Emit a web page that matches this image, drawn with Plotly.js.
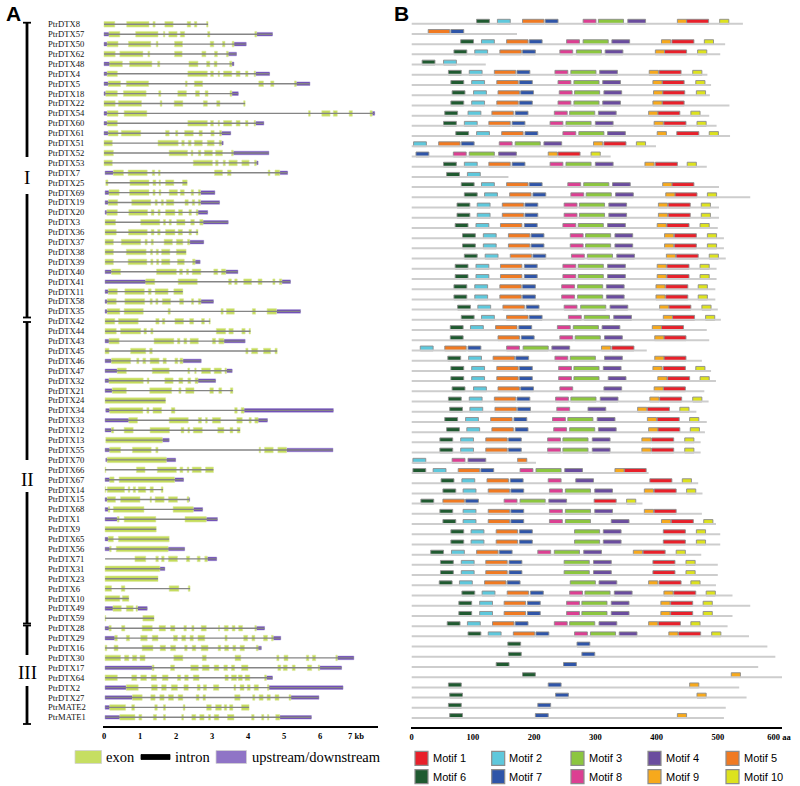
<!DOCTYPE html>
<html>
<head>
<meta charset="utf-8">
<script src="https://cdn.plot.ly/plotly-3.0.1.min.js"></script>
<style>html,body{margin:0;padding:0;background:#fff;}#chart{width:800px;height:786px;}</style>
</head>
<body>
<div id="chart"></div>
<script>
// ---------------- Panel A: gene structures (kb) ----------------
const geneNames = ["PtrDTX8","PtrDTX57","PtrDTX50","PtrDTX62","PtrDTX48","PtrDTX4","PtrDTX5","PtrDTX18","PtrDTX22","PtrDTX54",
"PtrDTX60","PtrDTX61","PtrDTX51","PtrDTX52","PtrDTX53","PtrDTX7","PtrDTX25","PtrDTX69","PtrDTX19","PtrDTX20",
"PtrDTX3","PtrDTX36","PtrDTX37","PtrDTX38","PtrDTX39","PtrDTX40","PtrDTX41","PtrDTX11","PtrDTX58","PtrDTX35",
"PtrDTX42","PtrDTX44","PtrDTX43","PtrDTX45","PtrDTX46","PtrDTX47","PtrDTX32","PtrDTX21","PtrDTX24","PtrDTX34",
"PtrDTX33","PtrDTX12","PtrDTX13","PtrDTX55","PtrDTX70","PtrDTX66","PtrDTX67","PtrDTX14","PtrDTX15","PtrDTX68",
"PtrDTX1","PtrDTX9","PtrDTX65","PtrDTX56","PtrDTX71","PtrDTX31","PtrDTX23","PtrDTX6","PtrDTX10","PtrDTX49",
"PtrDTX59","PtrDTX28","PtrDTX29","PtrDTX16","PtrDTX30","PtrDTX17","PtrDTX64","PtrDTX2","PtrDTX27","PtrMATE2","PtrMATE1"];

const geneSpan = [[0,2.89],[0,4.68],[0,3.95],[0,3.68],[0,3.61],[0,4.60],[0,5.72],[0,3.73],[0,3.92],[0,7.52],
[0,4.44],[0,3.52],[0,3.31],[0,4.58],[0,4.28],[0.03,5.10],[0.05,2.31],[0.03,3.08],[0.03,3.21],[0.03,2.88],
[0.03,3.45],[0.03,2.61],[0.03,2.77],[0.03,2.28],[0.03,2.67],[0.03,3.72],[0.03,5.18],[0.03,2.19],[0.03,3.04],[0.03,5.46],
[0.03,2.95],[0.03,4.07],[0.03,3.92],[0.03,4.81],[0.03,2.70],[0.03,3.56],[0.03,3.10],[0.03,3.58],[0.03,1.71],[0.05,6.37],
[0.03,4.54],[0.03,3.78],[0.05,1.81],[0.03,6.36],[0.05,1.99],[0.03,3.04],[0.03,2.21],[0.03,1.64],[0.03,2.38],[0.03,2.74],
[0.03,3.15],[0.03,1.45],[0.03,1.81],[0.03,2.24],[0.03,3.13],[0.03,1.69],[0.03,1.50],[0.03,2.39],[0.03,0.69],[0.03,1.20],
[0.03,1.39],[0.03,4.46],[0.03,4.91],[0.03,4.37],[0.03,6.94],[0.03,6.60],[0.03,4.68],[0.03,6.64],[0.03,5.97],[0.03,4.03],[0.03,5.76]];

const utr5 = [null,[0,0.14],[0,0.09],null,[0,0.16],[0,0.09],[0,0.12],[0,0.05],null,[0,0.09],
[0,0.09],[0,0.12],null,null,null,[0.03,0.26],null,[0.03,0.14],[0.03,0.12],[0.03,0.08],
null,null,null,null,null,[0.03,0.21],[0.03,1.16],[0.03,0.12],[0.03,0.09],[0.03,0.09],
null,null,[0.03,0.14],null,[0.03,0.21],[0.03,0.37],[0.03,0.14],[0.03,0.23],null,[0.05,0.16],
[0.03,0.69],[0.03,0.21],null,[0.03,0.16],[0.05,0.09],null,[0.03,0.16],null,[0.03,0.09],[0.03,0.12],
[0.03,0.37],null,[0.03,0.12],[0.03,0.16],null,null,null,null,null,[0.03,0.25],
null,[0.03,0.14],[0.03,0.30],null,null,[0.03,1.34],null,[0.03,0.62],[0.03,0.79],[0.03,0.16],[0.03,0.44]];

const utr3 = [null,[4.24,4.68],[3.61,3.95],[3.45,3.68],[3.55,3.61],[4.21,4.60],[5.34,5.72],[3.55,3.73],null,[7.45,7.52],
[4.21,4.44],[3.26,3.52],[3.26,3.31],[3.59,4.58],[4.23,4.28],[4.88,5.10],null,[2.68,3.08],[2.68,3.21],[2.61,2.88],
[2.75,3.45],null,[2.38,2.77],null,[2.53,2.67],[3.38,3.72],[4.94,5.18],null,[2.69,3.04],[4.79,5.46],
null,null,[3.33,3.92],null,[2.19,2.70],[3.40,3.56],[2.61,3.10],null,null,[3.89,6.37],
[4.28,4.54],null,[1.62,1.81],[5.07,6.36],[1.73,1.99],null,[1.96,2.21],null,[2.36,2.38],[2.48,2.74],
[2.84,3.15],null,null,[1.78,2.24],[2.87,3.13],[1.55,1.69],null,null,null,[0.93,1.20],
null,[4.23,4.46],[4.70,4.91],[4.28,4.37],[6.48,6.94],[5.99,6.60],[4.51,4.68],[4.58,6.64],[5.19,5.97],null,[4.88,5.76]];

const exonBounds = [
[0,0.30,0.63,1.25,1.36,1.42,1.69,1.92,2.31,2.41,2.51,2.58,2.85,2.89],
[0.14,0.44,0.88,1.50,1.65,1.69,1.80,2.03,2.12,2.24,2.88,2.94,4.19,4.24],
[0.09,0.39,0.68,1.30,1.45,1.50,1.96,2.18,2.95,3.05,3.29,3.36,3.56,3.61],
[0,0.31,0.44,1.08,1.22,1.27,1.96,2.17,2.72,2.83,3.07,3.15,3.40,3.45],
[0.16,0.51,0.71,1.33,1.49,1.55,2.36,2.61,2.85,2.94,3.06,3.14,3.49,3.55],
[0.09,0.37,2.33,2.87,2.96,3.04,3.17,3.21,3.32,3.55,3.67,3.78,3.93,4.00,4.17,4.21],
[0.12,0.46,0.62,1.24,2.26,2.31,2.51,2.74,4.30,4.43,4.63,4.72,5.29,5.34],
[0.05,0.37,0.54,1.17,1.52,1.58,2.05,2.29,2.54,2.65,2.81,2.89,3.50,3.55],
[0,0.31,0.40,1.04,1.56,1.61,1.95,2.19,2.76,2.87,3.13,3.22,3.88,3.92],
[0.09,0.39,0.56,1.19,5.68,5.73,6.05,6.28,6.37,6.48,6.81,6.90,7.39,7.45],
[0.09,0.37,2.33,2.87,2.96,3.04,3.17,3.21,3.32,3.55,3.67,3.78,3.93,4.00,4.17,4.21],
[0.12,0.39,0.48,1.02,1.71,1.81,1.99,2.05,2.24,2.48,2.64,2.73,2.97,3.06,3.21,3.26],
[0,0.23,1.50,2.06,2.16,2.23,2.34,2.42,2.51,2.73,2.87,3.06,3.20,3.26],
[0,0.26,1.81,2.32,2.42,2.47,2.62,2.69,2.79,3.01,3.10,3.29,3.54,3.59],
[0,0.23,2.48,3.01,3.10,3.17,3.31,3.37,3.47,3.70,3.83,4.03,4.18,4.23],
[0.26,0.54,0.67,1.20,1.34,1.41,1.51,1.56,3.07,3.29,3.43,3.53,4.56,4.61,4.75,4.88],
[0.05,0.11,0.72,1.25,1.36,1.44,1.53,1.57,1.71,1.94,2.18,2.31],
[0.14,0.42,0.71,1.25,1.36,1.42,1.53,1.58,1.81,2.04,2.12,2.23,2.42,2.49,2.62,2.68],
[0.12,0.38,0.77,1.30,1.42,1.48,1.59,1.65,1.73,1.94,2.25,2.34,2.45,2.52,2.62,2.68],
[0.08,0.37,0.69,1.21,1.31,1.39,1.50,1.56,1.71,1.97,2.07,2.18,2.36,2.43,2.56,2.61],
[0.03,0.32,1.02,1.55,1.65,1.71,1.81,1.87,2.02,2.25,2.41,2.51,2.66,2.75],
[0.03,0.34,0.68,1.20,1.31,1.39,1.49,1.56,1.71,1.97,2.06,2.18,2.36,2.43,2.56,2.61],
[0.03,0.26,0.48,1.02,1.14,1.20,1.31,1.37,1.67,1.90,2.01,2.19,2.32,2.38],
[0.03,0.26,0.62,1.17,1.29,1.35,1.45,1.51,1.60,1.83,2.01,2.28],
[0.03,0.26,0.67,1.19,1.30,1.36,1.46,1.52,1.60,1.83,2.04,2.23,2.46,2.53],
[0.21,0.46,1.46,2.01,2.10,2.18,2.29,2.35,2.45,2.69,3.05,3.16,3.26,3.38],
[1.16,1.41,2.06,2.59,3.46,3.54,3.63,3.70,3.88,4.10,4.28,4.39,4.69,4.75,4.87,4.94],
[0.12,0.37,0.58,1.12,1.23,1.31,1.42,1.78,1.94,2.19],
[0.09,0.34,0.58,1.13,1.28,1.34,1.44,1.50,1.62,1.85,2.10,2.21,2.43,2.49,2.62,2.69],
[0.09,0.44,0.56,1.09,1.78,1.84,3.25,3.31,3.40,3.62,4.12,4.21,4.53,4.79],
[0.03,0.30,0.40,0.95,1.44,1.53,1.62,1.69,1.97,2.21,2.38,2.49,2.71,2.79,2.92,2.95],
[0.03,0.34,0.46,1.02,1.11,1.18,1.30,1.36,3.12,3.38,3.47,3.59,3.83,3.92,4.03,4.07],
[0.14,0.42,1.39,1.94,2.04,2.11,2.22,2.30,2.39,2.62,3.01,3.10,3.19,3.33],
[0.03,0.14,0.74,1.16,1.27,1.34,3.94,4.00,4.10,4.27,4.43,4.63,4.75,4.81],
[0.21,0.74,0.91,0.97,1.08,1.16,1.28,1.53,1.64,1.73,1.97,2.05,2.11,2.19],
[0.37,0.62,1.34,1.81,2.33,2.38,2.52,2.56,2.71,2.96,3.06,3.26,3.36,3.40],
[0.14,1.09,1.20,1.25,1.69,1.92,2.08,2.19,2.33,2.41,2.53,2.61],
[0.23,0.62,1.27,1.88,2.08,2.14,2.27,2.50,2.94,3.04,3.19,3.27,3.51,3.58],
[0.03,1.71],
[0.16,1.08,1.19,1.25,1.36,1.60,1.87,1.97,3.63,3.70,3.81,3.89],
[0.69,0.93,1.81,2.34,2.62,2.71,2.82,2.87,3.01,3.24,3.69,3.84,4.03,4.09,4.19,4.28],
[0.21,0.27,0.56,0.81,1.28,1.82,2.14,2.22,2.33,2.38,2.48,2.73,3.16,3.33,3.50,3.58,3.70,3.78],
[0.05,1.62],
[0.16,0.46,0.79,1.31,1.44,1.50,4.31,4.35,4.46,4.70,4.83,5.07],
[0.09,1.73],
[0.03,0.05,0.90,1.14,1.48,2.01,2.11,2.19,2.31,2.36,2.45,2.70,2.82,3.04],
[0.16,0.28,0.42,1.96],
[0.03,0.05,0.09,0.57,0.67,0.72,0.81,0.88,0.95,1.16,1.28,1.37,1.59,1.64],
[0.09,0.32,0.46,1.00,1.28,1.32,1.42,1.67,1.79,2.04,2.31,2.36],
[0.12,0.16,0.26,1.11,1.92,2.48],
[0.37,0.42,0.56,1.44,2.25,2.84],
[0.03,1.45],
[0.12,0.26,0.40,1.81],
[0.16,0.20,0.34,1.78],
[0.86,1.16,1.44,1.51,1.60,1.67,1.79,2.04,2.29,2.38,2.59,2.67,2.80,2.87],
[0.03,1.55],
[0.03,1.50],
[0.03,0.21,0.48,0.58,1.81,2.08,2.34,2.39],
[0.03,0.44,0.51,0.69],
[0.25,0.48,0.62,0.81,0.89,0.93],
[0.03,0.05,1.08,1.39],
[0.14,0.20,0.49,0.58,1.06,1.34,1.53,1.71,1.85,1.97,2.22,2.29,2.44,2.50,2.70,2.84,3.18,3.21,3.34,3.45,3.56,3.64,3.74,3.85,4.19,4.23],
[0.30,0.37,0.62,0.71,1.02,1.20,1.34,1.50,1.93,2.04,2.16,2.27,2.39,2.48,2.61,2.80,3.36,3.42,3.88,3.99,4.11,4.19,4.43,4.54,4.65,4.70],
[0.03,0.08,0.28,0.39,1.06,1.36,1.56,1.71,1.85,1.99,2.24,2.31,2.45,2.55,2.70,2.89,3.17,3.24,3.35,3.46,3.58,3.66,3.78,3.90,4.23,4.28],
[0.03,0.46,0.57,0.69,0.79,0.91,1.00,1.14,1.94,2.19,2.73,2.84,3.64,3.80,4.80,4.86,5.00,5.11,5.62,5.69,5.79,5.88,6.44,6.48],
[1.34,1.39,1.85,1.96,2.41,2.62,2.73,2.92,3.06,3.19,3.33,3.43,3.54,3.63,3.82,4.00,4.83,4.91,4.98,5.09,5.23,5.31,5.65,5.77,5.95,5.99],
[0.03,0.37,0.77,0.91,1.02,1.18,1.31,1.46,1.62,1.78,2.04,2.13,2.24,2.34,2.48,2.64,3.36,3.45,3.54,3.68,3.73,3.84,3.92,4.05,4.46,4.51],
[0.62,0.95,1.32,1.48,1.60,1.73,1.87,2.04,2.22,2.34,2.59,2.67,2.76,2.85,3.04,3.19,3.61,3.66,3.78,3.89,3.98,4.06,4.17,4.29,4.54,4.58],
[0.79,1.06,1.30,1.42,1.55,1.67,1.79,1.93,2.06,2.19,2.56,2.64,2.75,2.82,3.63,3.78,4.13,4.19,4.31,4.42,4.53,4.62,4.75,4.86,5.14,5.19],
[0.16,0.60,0.77,0.85,1.41,1.48,1.65,1.71,2.20,2.25,2.85,2.98,3.10,3.26,3.34,3.41,3.49,3.58,3.82,4.03],
[0.44,0.86,0.97,1.05,1.37,1.46,1.65,1.71,2.16,2.21,2.44,2.55,2.66,2.78,2.90,2.96,3.06,3.19,3.43,3.61,4.10,4.17,4.38,4.44,4.54,4.58,4.77,4.88]];

const groupLabels = ["I","II","III"];
const kbTicks = [0,1,2,3,4,5,6,7];
const kbTickText = ["0","1","2","3","4","5","6","7 kb"];
const legendA = ["exon","intron","upstream/downstream"];

// ---------------- Panel B: motif locations (aa) ----------------
const proteinLength = [541,172,512,504,121,483,489,487,519,486,498,520,399,325,482,158,502,553,502,502,
500,510,510,513,498,498,496,496,500,505,482,486,384,474,489,497,478,485,465,482,
479,472,472,203,387,468,475,377,474,497,504,504,473,500,500,497,524,553,524,516,
551,581,594,566,606,535,547,513,510];

const motifRows = [
[[6,106],[2,140],[5,181],[7,218],[8,280],[3,305],[4,353],[9,434],[1,449],[10,503]],
[[5,27],[7,64]],
[[6,80],[2,114],[5,155],[7,192],[8,253],[3,280],[4,327],[9,408],[1,425],[10,478]],
[[6,69],[2,103],[5,144],[7,181],[8,242],[3,269],[4,316],[9,398],[1,413],[10,467]],
[[6,17],[2,52]],
[[6,60],[2,94],[5,135],[7,172],[8,234],[3,260],[4,307],[9,388],[1,404],[10,459]],
[[6,64],[2,98],[5,139],[7,176],[8,239],[3,265],[4,312],[9,394],[1,409],[10,464]],
[[6,66],[2,101],[5,141],[7,178],[8,241],[3,266],[4,314],[9,395],[1,410],[10,465]],
[[6,64],[2,98],[5,139],[7,176],[8,239],[3,265],[4,312],[9,394],[1,409]],
[[6,54],[2,92],[5,131],[7,169],[8,233],[3,258],[4,305],[9,387],[1,402],[10,456]],
[[6,52],[2,86],[5,126],[7,164],[8,226],[3,252],[4,300],[9,396],[1,412],[10,466]],
[[6,72],[2,106],[5,147],[7,185],[8,247],[3,273],[4,320],[9,401],[1,433],[10,486]],
[[2,3],[5,44],[7,81],[8,143],[3,169],[4,216],[9,297],[1,314],[10,367]],
[[7,7],[8,68],[3,94],[4,142],[9,223],[1,239],[10,293]],
[[6,52],[2,86],[5,126],[7,164],[8,226],[3,252],[4,300],[9,381],[1,398],[10,450]],
[[6,57],[2,91]],
[[6,81],[2,114],[5,155],[7,192],[8,255],[3,281],[4,328],[9,410],[1,425]],
[[6,86],[2,119],[5,160],[7,198],[8,260],[3,285],[4,333],[9,415],[1,430],[10,483]],
[[6,74],[2,107],[5,148],[7,185],[8,249],[3,274],[4,322],[9,403],[1,419],[10,473]],
[[6,74],[2,107],[5,148],[7,185],[8,249],[3,274],[4,322],[9,403],[1,419],[10,473]],
[[6,71],[2,105],[5,145],[7,184],[8,247],[3,272],[4,320],[9,401],[1,417],[10,471]],
[[6,83],[2,117],[5,158],[7,195],[8,259],[3,284],[4,332],[9,413],[1,429],[10,483]],
[[6,83],[2,117],[5,158],[7,195],[8,259],[3,284],[4,332],[9,413],[1,429],[10,483]],
[[6,86],[2,120],[5,161],[7,198],[8,261],[3,287],[4,335],[9,416],[1,432],[10,486]],
[[6,71],[2,105],[5,145],[7,184],[8,247],[3,272],[4,320],[9,401],[1,417],[10,471]],
[[6,71],[2,105],[5,145],[7,184],[8,247],[3,272],[4,320],[9,401],[1,417],[10,471]],
[[6,69],[2,103],[5,144],[7,181],[8,245],[3,271],[4,318],[9,399],[1,415],[10,468]],
[[6,69],[2,103],[5,144],[7,181],[8,245],[3,271],[4,318],[9,399],[1,415],[10,468]],
[[6,75],[2,108],[5,149],[7,187],[8,249],[3,276],[4,324],[9,405],[1,420],[10,474]],
[[6,81],[2,114],[5,155],[7,192],[8,256],[3,282],[4,330],[9,411],[1,426],[10,480]],
[[6,63],[2,96],[5,137],[7,175],[8,238],[3,264],[4,311],[9,393],[1,408]],
[[6,63],[5,141],[7,179],[8,242],[3,267],[4,315],[9,397],[1,412]],
[[2,14],[5,54],[7,92],[8,155],[3,182],[4,229],[9,310],[1,327]],
[[6,59],[2,93],[5,133],[7,170],[8,234],[3,259],[4,315],[9,397],[1,412]],
[[6,64],[2,98],[5,139],[7,176],[8,240],[3,265],[4,313],[9,394],[1,411],[10,464]],
[[6,64],[2,98],[5,139],[7,176],[8,240],[3,265],[4,321],[9,402],[1,418],[10,471]],
[[6,66],[2,101],[5,141],[7,178],[8,242],[4,314],[9,396],[1,411]],
[[6,60],[2,94],[5,135],[7,172],[8,235],[3,260],[4,308],[9,389],[1,405],[10,459]],
[[6,62],[2,95],[5,136],[7,173],[8,237],[4,288],[9,369],[1,385],[10,438]],
[[6,54],[2,88],[5,129],[7,167],[8,230],[3,255],[4,303],[9,385],[1,401],[10,454]],
[[6,57],[2,90],[5,131],[7,169],[8,232],[3,258],[4,305],[9,387],[1,402],[10,455]],
[[6,46],[2,80],[5,121],[7,158],[8,222],[3,247],[4,295],[9,376],[1,392],[10,446]],
[[6,46],[2,80],[5,121],[7,158],[8,222],[3,247],[4,295],[9,376],[1,392],[10,446]],
[[2,2],[8,66],[4,92],[5,173,15]],
[[6,2],[2,35],[5,76],[7,113],[8,177],[3,203],[4,250],[9,332],[1,347]],
[[6,48],[2,82],[5,123],[7,161],[8,223],[4,268],[1,389],[10,442]],
[[6,51],[2,84],[5,125],[7,162],[8,225],[3,251],[4,299],[9,380],[1,396],[10,449]],
[[6,15],[5,51],[7,88],[8,151],[3,177],[4,224],[1,298],[10,351]],
[[6,46],[2,84],[5,125],[7,162],[8,225],[3,251],[4,299],[9,380],[1,396]],
[[6,51],[2,84],[5,125],[7,162],[8,225],[3,251],[4,326],[9,408],[1,424],[10,477]],
[[6,64],[2,97],[5,138],[7,176],[3,266],[4,313],[1,411],[10,465]],
[[6,64],[2,97],[5,138],[7,176],[3,266],[4,313],[1,411],[10,465]],
[[6,31],[2,65],[5,106],[7,143],[8,206],[3,233],[4,281],[9,362],[1,378],[10,432]],
[[6,47],[2,81],[5,121],[7,159],[3,249],[4,297],[1,394],[10,448]],
[[6,47],[2,81],[5,121],[7,159],[3,249],[4,297],[1,394],[10,448]],
[[6,45],[2,78],[5,119],[7,156],[3,259],[4,306],[9,387],[1,404],[10,456]],
[[6,82],[2,115],[5,156],[7,194],[8,258],[3,283],[4,331],[9,412],[1,428],[10,481]],
[[6,77],[2,111],[5,151],[7,189],[8,253],[3,278],[4,326],[9,407],[1,423],[10,476]],
[[6,77],[2,111],[5,151],[7,189],[8,253],[3,278],[4,326],[9,407],[1,423],[10,476]],
[[6,58],[2,91],[5,132],[7,169],[8,233],[3,258],[4,306],[9,387],[1,403],[10,456]],
[[6,92],[2,125],[5,166],[7,203],[8,266],[3,292],[4,339],[9,420],[1,436],[10,490]],
[[6,157],[7,270]],
[[6,158],[7,278]],
[[6,138],[7,248]],
[[6,181],[9,522]],
[[6,60],[7,223],[9,454]],
[[6,62],[7,235],[9,466]],
[[6,60],[7,206]],
[[6,62],[7,202],[9,434]]];

const motifNames = ["Motif 1","Motif 2","Motif 3","Motif 4","Motif 5","Motif 6","Motif 7","Motif 8","Motif 9","Motif 10"];
const motifWidth = [36,21,41,29,35,21,21,21,15,15];
const aaTicks = [0,100,200,300,400,500,600];
const aaTickText = ["0","100","200","300","400","500","600 aa"];

// ---------------- styles ----------------
const motifColors = ["#e8202a","#5ec8dc","#8cc63f","#6a4c9e","#f07a22","#1f5a30","#2f55a8","#dc3f92","#f7a91c","#dde21e"];
const exonColor = "#c4dc5a", utrColor = "#6b47b3", intronColor = "#858585";

const W = 800, H = 786;
const px = x => x / W, py = y => 1 - y / H;

// geometry (pixels) of the two panels
const A = {left:103, right:378, top:10, bottom:725.7, x0:104, perKb:36.0, row0:24.3, rowStep:9.9};
const B = {left:411, right:782, top:10, bottom:726.7, x0:411.7, perAa:0.6122, row0:21.7, rowStep:10.21};

const traces = [];

// introns / gene lines
const ix = [], iy = [];
geneSpan.forEach((s, i) => { ix.push(s[0], s[1], null); iy.push(i, i, null); });
traces.push({type:'scatter', mode:'lines', x:ix, y:iy, xaxis:'x', yaxis:'y',
  line:{color:intronColor, width:1.4}, hoverinfo:'skip', showlegend:false});

// UTR bars
const ub = [], ul = [], uy = [];
[utr5, utr3].forEach(arr => arr.forEach((u, i) => { if (u) { ub.push(u[0]); ul.push(u[1]-u[0]); uy.push(i); } }));
traces.push({type:'bar', orientation:'h', base:ub, x:ul, y:uy, width:0.36, xaxis:'x', yaxis:'y',
  marker:{color:utrColor, line:{color:'#9c88d0', width:0.5}}, hoverinfo:'skip', showlegend:false});

// exon bars
const eb = [], el = [], ey = [];
exonBounds.forEach((b, i) => { for (let k = 0; k < b.length; k += 2) { eb.push(b[k]); el.push(b[k+1]-b[k]); ey.push(i); } });
traces.push({type:'bar', orientation:'h', base:eb, x:el, y:ey, width:0.56, xaxis:'x', yaxis:'y',
  marker:{color:exonColor, line:{color:'#dce9a0', width:0.6}}, hoverinfo:'skip', showlegend:false});

// protein lines (panel B)
const px2 = [], py2 = [];
proteinLength.forEach((L, j) => { px2.push(0, L, null); py2.push(j + 0.2, j + 0.2, null); });
traces.push({type:'scatter', mode:'lines', x:px2, y:py2, xaxis:'x2', yaxis:'y2',
  line:{color:'#cdcdcd', width:2}, hoverinfo:'skip', showlegend:false});

// motif bars, one trace per motif
motifNames.forEach((name, m) => {
  const b = [], l = [], y = [];
  motifRows.forEach((row, j) => row.forEach(r => {
    if (r[0] === m + 1) { b.push(r[1]); l.push(r[2] || motifWidth[m]); y.push(j); }
  }));
  traces.push({type:'bar', orientation:'h', name:name, base:b, x:l, y:y, width:0.47, xaxis:'x2', yaxis:'y2',
    marker:{color:motifColors[m], line:{color:'#8c8c8c', width:0.9}}, hoverinfo:'skip', showlegend:false});
});

// ---------------- layout ----------------
const shapes = [], annotations = [];
const tickFont = {family:'Liberation Serif', size:8.5, color:'#000', weight:'bold'};

// gene names
geneNames.forEach((n, i) => annotations.push({xref:'paper', yref:'y', x:px(46), y:i, xanchor:'left', yanchor:'middle',
  text:n, showarrow:false, font:{family:'Liberation Serif', size:8.6, color:'#111'}}));

// group brackets (pixel geometry of the reference bracket drawing)
const bx = 27;
const bracketSegs = [[22.7,157],[194,317.5],[322,460],[492,623.5],[625.5,655],[686,724]];
bracketSegs.forEach(s => shapes.push({type:'line', xref:'paper', yref:'paper', x0:px(bx), x1:px(bx), y0:py(s[0]), y1:py(s[1]), line:{color:'#000', width:2.8}}));
[22.7,317.5,322,623.5,625.5,724].forEach(y => shapes.push({type:'line', xref:'paper', yref:'paper', x0:px(23), x1:px(31), y0:py(y), y1:py(y), line:{color:'#000', width:1.8}}));
[[groupLabels[0],177],[groupLabels[1],479],[groupLabels[2],672]].forEach(g => annotations.push({xref:'paper', yref:'paper',
  x:px(bx), y:py(g[1]), xanchor:'center', yanchor:'middle', text:g[0], showarrow:false,
  font:{family:'Liberation Serif', size:19, color:'#000'}}));

// panel letters
annotations.push({xref:'paper', yref:'paper', x:px(13), y:py(13), xanchor:'center', yanchor:'middle', text:'A', showarrow:false,
  font:{family:'Liberation Sans', size:21, color:'#000', weight:'bold'}});
annotations.push({xref:'paper', yref:'paper', x:px(401), y:py(14), xanchor:'center', yanchor:'middle', text:'B', showarrow:false,
  font:{family:'Liberation Sans', size:21, color:'#000', weight:'bold'}});

// legend A
const legA = [[75,101.5,750.5,763.5,'#c6de62',104],[141,170,754.5,759.5,'#000',173],[216,246.5,750.5,763.5,'#8f74c6',250]];
legA.forEach((k, i) => {
  shapes.push({type:'rect', xref:'paper', yref:'paper', x0:px(k[0]), x1:px(k[1]), y0:py(k[3]), y1:py(k[2]),
    fillcolor:k[4], line:{color: i===1 ? '#000' : '#d0d0d0', width:0.8}});
  annotations.push({xref:'paper', yref:'paper', x:px(k[5]), y:py(757), xanchor:'left', yanchor:'middle', text:legendA[i],
    showarrow:false, font:{family:'Liberation Serif', size:14.5, color:'#000'}});
});

// legend B
const legCols = [415, 491.7, 571, 648, 726], legRows = [758.3, 776.7];
motifNames.forEach((n, m) => {
  const x = legCols[m % 5], y = legRows[Math.floor(m / 5)];
  shapes.push({type:'rect', xref:'paper', yref:'paper', x0:px(x), x1:px(x+13), y0:py(y+7), y1:py(y-7),
    fillcolor:motifColors[m], line:{color:'#8c8c8c', width:1.2}});
  annotations.push({xref:'paper', yref:'paper', x:px(x+15.5), y:py(y), xanchor:'left', yanchor:'middle', text:n,
    showarrow:false, font:{family:'Liberation Sans', size:11, color:'#000'}});
});

const layout = {
  width:W, height:H, margin:{l:0, r:0, t:0, b:0}, paper_bgcolor:'#fff', plot_bgcolor:'rgba(0,0,0,0)',
  showlegend:false, barmode:'overlay', hovermode:false,
  xaxis:{domain:[px(A.left), px(A.right)], range:[(A.left-A.x0)/A.perKb, (A.right-A.x0)/A.perKb], anchor:'y',
    showline:true, linecolor:'#000', linewidth:2.7, showgrid:false, zeroline:false, ticks:'',
    tickvals:kbTicks, ticktext:kbTickText, tickfont:tickFont, fixedrange:true},
  yaxis:{domain:[py(A.bottom), py(A.top)], range:[(A.bottom-A.row0)/A.rowStep, (A.top-A.row0)/A.rowStep], anchor:'x',
    visible:false, fixedrange:true},
  xaxis2:{domain:[px(B.left), px(B.right)], range:[(B.left-B.x0)/B.perAa, (B.right-B.x0)/B.perAa], anchor:'y2',
    showline:true, linecolor:'#000', linewidth:2.7, showgrid:false, zeroline:false, ticks:'',
    tickvals:aaTicks, ticktext:aaTickText, tickfont:tickFont, fixedrange:true},
  yaxis2:{domain:[py(B.bottom), py(B.top)], range:[(B.bottom-B.row0)/B.rowStep, (B.top-B.row0)/B.rowStep], anchor:'x2',
    visible:false, fixedrange:true},
  shapes:shapes, annotations:annotations
};

Plotly.newPlot('chart', traces, layout, {staticPlot:true, displayModeBar:false});
</script>
</body>
</html>
